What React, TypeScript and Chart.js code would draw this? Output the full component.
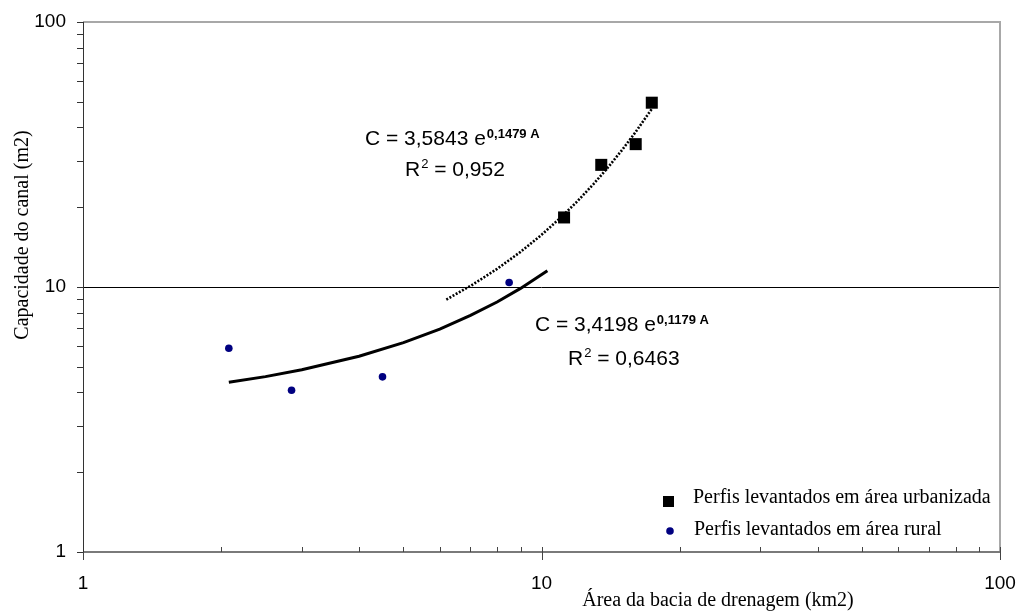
import React, { useEffect, useRef } from "react";
import { Chart, registerables } from "chart.js";

Chart.register(...registerables);

const urbanArea = [11.2, 13.5, 16.05, 17.4];
const urbanCapacity = [18.3, 28.9, 34.6, 49.6];
const ruralArea = [2.08, 2.85, 4.5, 8.5];
const ruralCapacity = [5.87, 4.08, 4.58, 10.4];

// Trend lines as drawn in the picture (C = 3,5843 e^0,1479A and C = 3,4198 e^0,1179A)
const urbanTrendArea = [6.2, 7, 8, 9, 10, 11, 12, 13, 14, 15, 16, 17.4];
const urbanTrendCapacity = [8.97, 10.09, 11.7, 13.57, 15.73, 18.24, 21.14, 24.52, 28.42, 32.95, 38.2, 47.0];
const ruralTrendArea = [2.08, 2.5, 3, 4, 5, 6, 7, 8, 9, 10.3];
const ruralTrendCapacity = [4.37, 4.59, 4.87, 5.48, 6.17, 6.94, 7.81, 8.78, 9.88, 11.52];

// Axis ticks
const majorTicks = [1, 10, 100];
const allTicks = [1, 2, 3, 4, 5, 6, 7, 8, 9, 10, 20, 30, 40, 50, 60, 70, 80, 90, 100];

// Texts
const legendLabels = ["Perfis levantados em área urbanizada", "Perfis levantados em área rural"];
const xTitle = "Área da bacia de drenagem (km2)";
const yTitle = "Capacidade do canal (m2)";
const urbanEq = { main: "C = 3,5843 e", exp: "0,1479 A", r2: " = 0,952" };
const ruralEq = { main: "C = 3,4198 e", exp: "0,1179 A", r2: " = 0,6463" };

const SANS = "'Liberation Sans', Arial, sans-serif";
const SERIF = "'Liberation Serif', 'Times New Roman', serif";

function isMajor(v: number) {
  return majorTicks.some((m) => Math.abs(m - v) < 1e-9);
}

function pts(xs: number[], ys: number[]) {
  return xs.map((x, i) => ({ x, y: ys[i] }));
}

export default function App() {
  const ref = useRef<HTMLCanvasElement>(null);

  useEffect(() => {
    const canvas = ref.current!;

    const drawEq = (ctx: CanvasRenderingContext2D, eq: any, x: number, y: number, x2: number, y2: number) => {
      ctx.fillStyle = "#000";
      ctx.textBaseline = "middle";
      ctx.textAlign = "left";
      ctx.font = `21px ${SANS}`;
      ctx.fillText(eq.main, x, y);
      const w = ctx.measureText(eq.main).width;
      ctx.font = `bold 13px ${SANS}`;
      ctx.fillText(eq.exp, x + w + 1, y - 5);
      ctx.font = `21px ${SANS}`;
      ctx.fillText("R", x2, y2);
      const wr = ctx.measureText("R").width;
      ctx.font = `13px ${SANS}`;
      ctx.fillText("2", x2 + wr + 1, y2 - 6);
      const w2 = ctx.measureText("2").width;
      ctx.font = `21px ${SANS}`;
      ctx.fillText(eq.r2, x2 + wr + w2 + 1, y2);
    };

    const decor = {
      id: "decor",
      beforeDatasetsDraw(chart: any) {
        const { ctx, chartArea: a, scales } = chart;
        const xs = scales.x;
        const ys = scales.y;
        ctx.save();
        // gridline at 10
        const y10 = ys.getPixelForValue(10);
        ctx.strokeStyle = "#000";
        ctx.lineWidth = 1;
        ctx.beginPath();
        ctx.moveTo(a.left, Math.round(y10) + 0.5);
        ctx.lineTo(a.right, Math.round(y10) + 0.5);
        ctx.stroke();
        // top & right border
        ctx.strokeStyle = "#a8a8a8";
        ctx.lineWidth = 2;
        ctx.beginPath();
        ctx.moveTo(a.left, a.top);
        ctx.lineTo(a.right, a.top);
        ctx.lineTo(a.right, a.bottom);
        ctx.stroke();
        // bottom axis
        ctx.strokeStyle = "#7a7a7a";
        ctx.lineWidth = 2;
        ctx.beginPath();
        ctx.moveTo(a.left, a.bottom);
        ctx.lineTo(a.right, a.bottom);
        ctx.stroke();
        // x ticks
        ctx.lineWidth = 1;
        ctx.strokeStyle = "#444";
        allTicks.forEach((v) => {
          const px = Math.round(xs.getPixelForValue(v)) + 0.5;
          ctx.beginPath();
          if (isMajor(v)) {
            ctx.moveTo(px, a.bottom - 5);
            ctx.lineTo(px, a.bottom + 8);
          } else {
            ctx.moveTo(px, a.bottom - 5);
            ctx.lineTo(px, a.bottom);
          }
          ctx.stroke();
        });
        // left axis
        ctx.strokeStyle = "#333";
        ctx.lineWidth = 1;
        ctx.beginPath();
        ctx.moveTo(Math.round(a.left) + 0.5, a.top);
        ctx.lineTo(Math.round(a.left) + 0.5, a.bottom);
        ctx.stroke();
        // y ticks
        allTicks.forEach((v) => {
          const py = Math.round(ys.getPixelForValue(v)) + 0.5;
          ctx.beginPath();
          ctx.moveTo(a.left - 6, py);
          ctx.lineTo(a.left, py);
          ctx.stroke();
        });
        ctx.restore();
      },
      afterDraw(chart: any) {
        const { ctx } = chart;
        ctx.save();
        // equations
        drawEq(ctx, urbanEq, 365, 139, 405, 170);
        drawEq(ctx, ruralEq, 535, 325, 568, 359);
        // legend
        ctx.fillStyle = "#000";
        ctx.fillRect(663, 496, 11, 11);
        ctx.fillStyle = "#000080";
        ctx.beginPath();
        ctx.arc(670, 531, 3.8, 0, Math.PI * 2);
        ctx.fill();
        ctx.fillStyle = "#000";
        ctx.font = `20px ${SERIF}`;
        ctx.textAlign = "left";
        ctx.textBaseline = "middle";
        ctx.fillText(legendLabels[0], 693, 498);
        ctx.fillText(legendLabels[1], 694, 530);
        // axis titles
        ctx.font = `20px ${SERIF}`;
        ctx.textAlign = "center";
        ctx.fillText(xTitle, 718, 601);
        ctx.translate(23, 235);
        ctx.rotate(-Math.PI / 2);
        ctx.fillText(yTitle, 0, 0);
        ctx.restore();
      },
    };

    const tickCfg = (padding: number) => ({
      autoSkip: false,
      maxRotation: 0,
      padding,
      color: "#000",
      font: { family: SANS, size: 19 },
      callback: (v: any) => (isMajor(Number(v)) ? String(Number(v)) : ""),
    });

    const chart = new Chart(canvas, {
      type: "scatter",
      data: {
        datasets: [
          {
            label: "trend urban",
            data: pts(urbanTrendArea, urbanTrendCapacity),
            showLine: true,
            borderColor: "#000",
            borderWidth: 2.6,
            borderDash: [2, 1.6],
            pointRadius: 0,
            fill: false,
          },
          {
            label: "trend rural",
            data: pts(ruralTrendArea, ruralTrendCapacity),
            showLine: true,
            borderColor: "#000",
            borderWidth: 3,
            pointRadius: 0,
            fill: false,
          },
          {
            label: legendLabels[0],
            data: pts(urbanArea, urbanCapacity),
            pointStyle: "rect",
            pointRadius: 8.5,
            backgroundColor: "#000",
            borderColor: "#000",
            borderWidth: 0,
          },
          {
            label: legendLabels[1],
            data: pts(ruralArea, ruralCapacity),
            pointStyle: "circle",
            pointRadius: 3.8,
            backgroundColor: "#000080",
            borderColor: "#000080",
            borderWidth: 0,
          },
        ],
      },
      options: {
        animation: false,
        responsive: true,
        maintainAspectRatio: false,
        layout: { padding: { top: 22, right: 19, left: 0, bottom: 0 } },
        plugins: { legend: { display: false }, tooltip: { enabled: false } },
        scales: {
          x: {
            type: "logarithmic",
            min: 1,
            max: 100,
            afterBuildTicks: (s: any) => {
              s.ticks = allTicks.map((v) => ({ value: v }));
            },
            afterFit: (s: any) => {
              s.height = 63;
              s.paddingLeft = 0;
              s.paddingRight = 0;
              s.paddingTop = 0;
              s.paddingBottom = 0;
            },
            grid: { display: false, drawTicks: false },
            border: { display: false },
            ticks: tickCfg(20),
          },
          y: {
            type: "logarithmic",
            min: 1,
            max: 100,
            afterBuildTicks: (s: any) => {
              s.ticks = allTicks.map((v) => ({ value: v }));
            },
            afterFit: (s: any) => {
              s.width = 83;
              s.paddingLeft = 0;
              s.paddingRight = 0;
              s.paddingTop = 0;
              s.paddingBottom = 0;
            },
            grid: { display: false, drawTicks: false },
            border: { display: false },
            ticks: tickCfg(17),
          },
        },
      },
      plugins: [decor],
    });

    return () => chart.destroy();
  }, []);

  return (
    <div style={{ position: "fixed", left: 0, top: 0, width: 1019, height: 615, background: "#fff" }}>
      <canvas ref={ref} />
    </div>
  );
}
